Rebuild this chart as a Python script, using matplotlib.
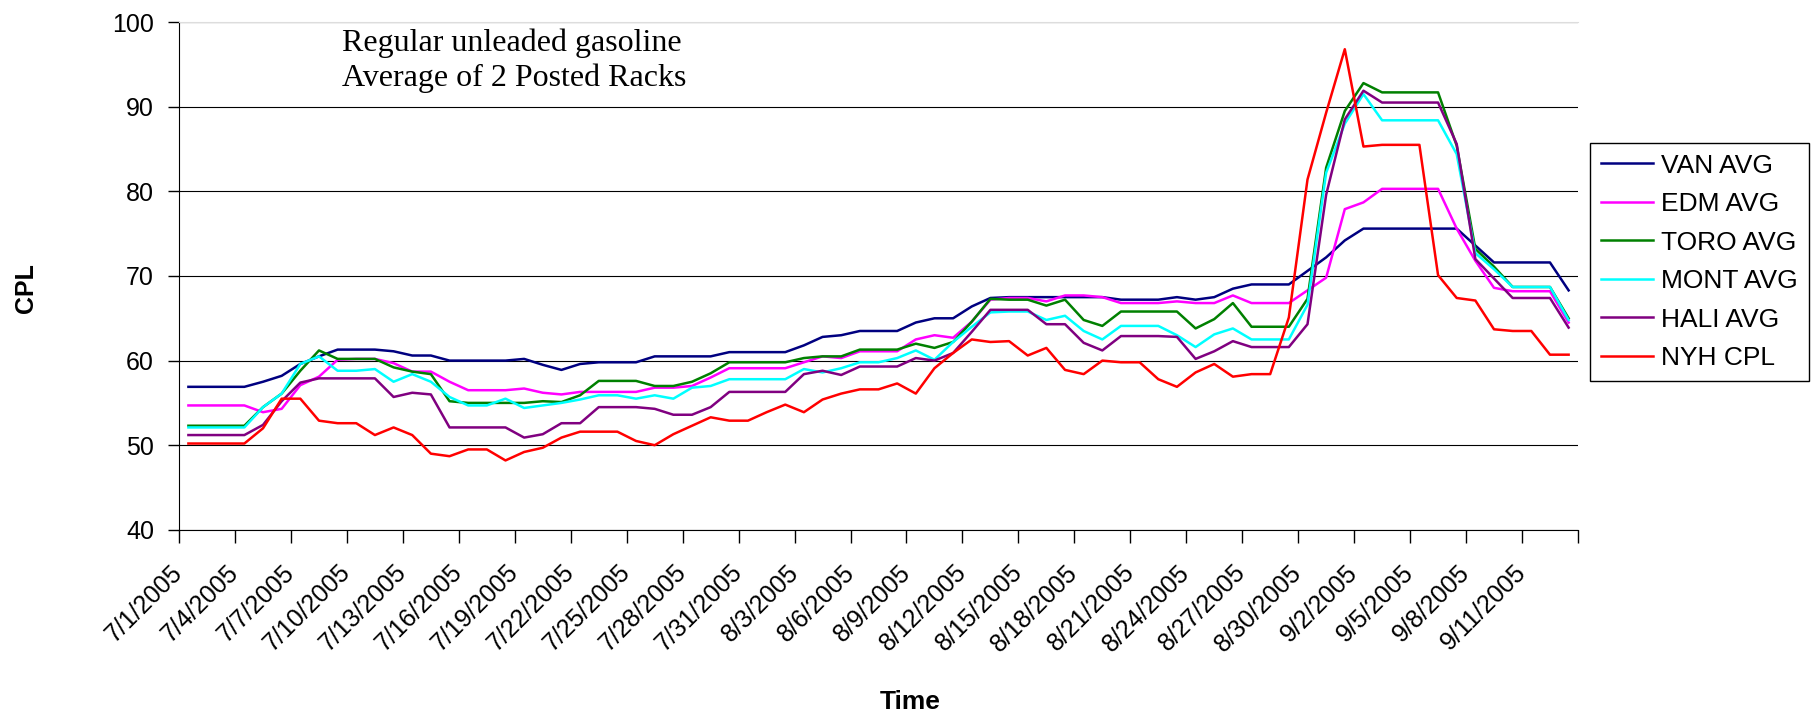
import numpy as np
import pandas as pd
import matplotlib
matplotlib.use('Agg')
import matplotlib.pyplot as plt

# daily categories 7/1/2005 .. 9/13/2005
dates = pd.date_range('2005-07-01', '2005-09-13', freq='D')
labels = [f"{d.month}/{d.day}/{d.year}" for d in dates]

van = [56.9, 56.9, 56.9, 56.9, 57.5, 58.2, 59.6, 60.5, 61.3, 61.3, 61.3, 61.1,
       60.6, 60.6, 60.0, 60.0, 60.0, 60.0, 60.2, 59.5, 58.9, 59.6, 59.8, 59.8,
       59.8, 60.5, 60.5, 60.5, 60.5, 61.0, 61.0, 61.0, 61.0, 61.8, 62.8, 63.0,
       63.5, 63.5, 63.5, 64.5, 65.0, 65.0, 66.4, 67.4, 67.5, 67.5, 67.5, 67.5,
       67.5, 67.5, 67.2, 67.2, 67.2, 67.5, 67.2, 67.5, 68.5, 69.0, 69.0, 69.0,
       70.6, 72.2, 74.2, 75.6, 75.6, 75.6, 75.6, 75.6, 75.6, 73.6, 71.6, 71.6,
       71.6, 71.6, 68.3]
edm = [54.7, 54.7, 54.7, 54.7, 53.9, 54.3, 57.1, 58.1, 60.1, 60.2, 60.2, 59.7,
       58.7, 58.7, 57.5, 56.5, 56.5, 56.5, 56.7, 56.2, 56.0, 56.3, 56.3, 56.3,
       56.3, 56.8, 56.8, 57.0, 58.0, 59.1, 59.1, 59.1, 59.1, 59.8, 60.5, 60.3,
       61.1, 61.1, 61.1, 62.5, 63.0, 62.7, 64.6, 67.2, 67.4, 67.4, 67.0, 67.7,
       67.7, 67.5, 66.8, 66.8, 66.8, 67.0, 66.8, 66.8, 67.7, 66.8, 66.8, 66.8,
       68.3, 69.8, 77.9, 78.7, 80.3, 80.3, 80.3, 80.3, 75.6, 71.8, 68.6, 68.2,
       68.2, 68.2, 64.5]
toro = [52.3, 52.3, 52.3, 52.3, 54.5, 56.1, 58.8, 61.2, 60.2, 60.2, 60.2, 59.2,
        58.7, 58.4, 55.2, 55.0, 55.0, 55.0, 55.0, 55.2, 55.1, 55.9, 57.6, 57.6,
        57.6, 57.0, 57.0, 57.5, 58.5, 59.8, 59.8, 59.8, 59.8, 60.3, 60.5, 60.5,
        61.3, 61.3, 61.3, 62.0, 61.5, 62.2, 64.6, 67.3, 67.2, 67.2, 66.5, 67.2,
        64.8, 64.1, 65.8, 65.8, 65.8, 65.8, 63.8, 64.9, 66.8, 64.0, 64.0, 64.0,
        67.3, 82.8, 89.5, 92.8, 91.7, 91.7, 91.7, 91.7, 85.4, 73.2, 71.1, 68.7,
        68.7, 68.7, 65.0]
mont = [52.1, 52.1, 52.1, 52.1, 54.5, 56.1, 59.6, 60.5, 58.8, 58.8, 59.0, 57.5,
        58.4, 57.5, 55.7, 54.7, 54.7, 55.5, 54.4, 54.7, 55.0, 55.4, 55.9, 55.9,
        55.5, 55.9, 55.5, 56.8, 57.0, 57.8, 57.8, 57.8, 57.8, 59.0, 58.6, 59.1,
        59.8, 59.8, 60.3, 61.2, 60.1, 62.2, 64.0, 65.7, 65.8, 65.8, 64.8, 65.3,
        63.5, 62.5, 64.1, 64.1, 64.1, 63.0, 61.6, 63.1, 63.8, 62.5, 62.5, 62.5,
        66.6, 82.2, 88.0, 91.5, 88.4, 88.4, 88.4, 88.4, 84.4, 72.7, 70.8, 68.7,
        68.7, 68.7, 64.8]
hali = [51.2, 51.2, 51.2, 51.2, 52.4, 55.2, 57.4, 57.9, 57.9, 57.9, 57.9, 55.7,
        56.2, 56.0, 52.1, 52.1, 52.1, 52.1, 50.9, 51.3, 52.6, 52.6, 54.5, 54.5,
        54.5, 54.3, 53.6, 53.6, 54.5, 56.3, 56.3, 56.3, 56.3, 58.4, 58.8, 58.3,
        59.3, 59.3, 59.3, 60.3, 60.0, 60.9, 63.4, 66.0, 66.0, 66.0, 64.3, 64.3,
        62.1, 61.2, 62.9, 62.9, 62.9, 62.8, 60.2, 61.1, 62.3, 61.6, 61.6, 61.6,
        64.3, 79.6, 88.5, 91.9, 90.5, 90.5, 90.5, 90.5, 85.6, 72.0, 69.7, 67.4,
        67.4, 67.4, 63.9]
nyh = [50.2, 50.2, 50.2, 50.2, 52.0, 55.5, 55.5, 52.9, 52.6, 52.6, 51.2, 52.1,
       51.2, 49.0, 48.7, 49.5, 49.5, 48.2, 49.2, 49.7, 50.9, 51.6, 51.6, 51.6,
       50.5, 50.0, 51.3, 52.3, 53.3, 52.9, 52.9, 53.9, 54.8, 53.9, 55.4, 56.1,
       56.6, 56.6, 57.3, 56.1, 59.1, 60.9, 62.5, 62.2, 62.3, 60.6, 61.5, 58.9,
       58.4, 60.0, 59.8, 59.8, 57.8, 56.9, 58.6, 59.6, 58.1, 58.4, 58.4, 65.1,
       81.4, 89.3, 96.8, 85.3, 85.5, 85.5, 85.5, 70.1, 67.4, 67.1, 63.7, 63.5,
       63.5, 60.7, 60.7]

series = [('VAN AVG', van, '#000080'),
          ('EDM AVG', edm, '#FF00FF'),
          ('TORO AVG', toro, '#008000'),
          ('MONT AVG', mont, '#00FFFF'),
          ('HALI AVG', hali, '#800080'),
          ('NYH CPL', nyh, '#FF0000')]

plt.rcParams['font.family'] = ['Liberation Sans', 'DejaVu Sans']

fig = plt.figure(figsize=(18.2, 7.15), dpi=100)
ax = fig.add_axes([0.0984, 0.259, 0.7686, 0.710])

x = np.arange(len(dates))
for name, vals, col in series:
    ax.plot(x, vals, color=col, lw=1.8, label=name)

ax.set_yticks(range(40, 101, 10))
ax.yaxis.grid(True, color='black', lw=0.8)
ax.set_axisbelow(True)

# ticks between categories, every 3rd; each label hangs off the tick left of its day
ax.set_xticks(x[::3] - 0.5)
ax.set_xticklabels(labels[::3], rotation=45, ha='right', va='center',
                   rotation_mode='anchor')
ax.set_xticks([len(dates) - 0.5], minor=True)
ax.tick_params(axis='x', which='both', length=9, width=1, direction='out')
ax.tick_params(axis='x', which='major', pad=19, labelsize=18)
ax.tick_params(axis='y', length=8, width=1, pad=10, labelsize=18)

ax.set_xlim(-0.5, len(dates) - 0.5)
ax.set_ylim(40, 100)

for s in ['left', 'bottom']:
    ax.spines[s].set_color('black')
ax.spines['right'].set_visible(False)
ax.spines['top'].set_color('#dddddd')

ax.text(0.1165, 0.987, 'Regular unleaded gasoline\nAverage of 2 Posted Racks',
        transform=ax.transAxes, ha='left', va='top', fontsize=23,
        family='Liberation Serif', linespacing=1.22)

fig.text(0.5, 0.018, 'Time', ha='center', va='center', fontsize=19, fontweight='bold')
fig.text(0.0145, 0.597, 'CPL', ha='center', va='center', rotation=90,
         fontsize=18, fontweight='bold')

leg = fig.legend(loc='upper left', bbox_to_anchor=(0.8736, 0.800), fontsize=19,
                 frameon=True, fancybox=False, shadow=False, framealpha=1,
                 edgecolor='black', handlelength=2.0, labelspacing=0.55,
                 borderpad=0.4, handletextpad=0.3, borderaxespad=0)
leg.get_frame().set_linewidth(1.0)

fig.savefig('out.png', dpi=100)
